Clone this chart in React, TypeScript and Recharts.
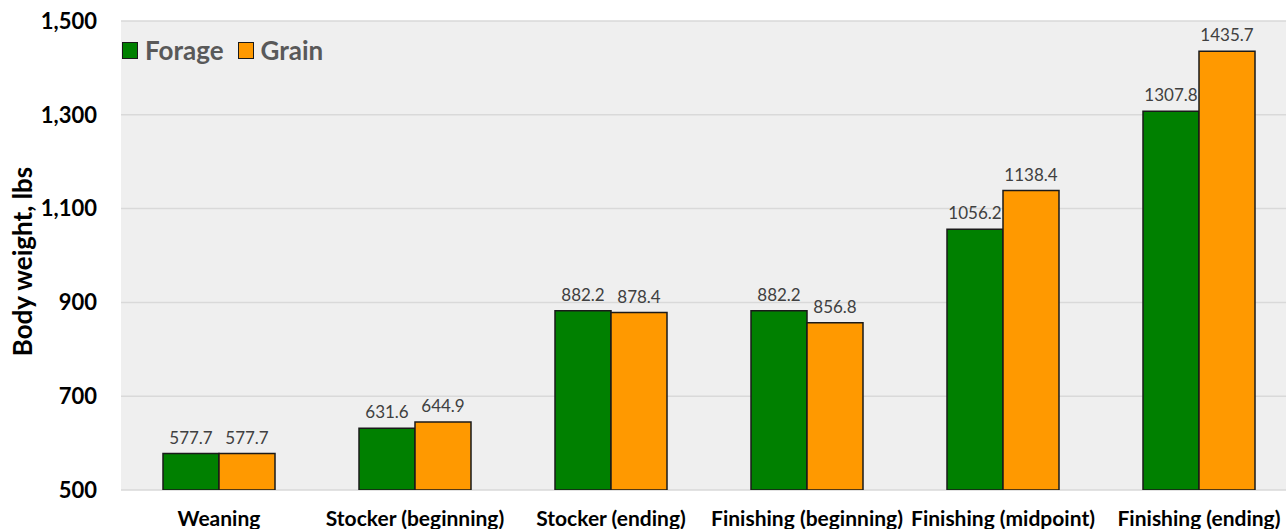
import React from 'react'
import {
  BarChart,
  Bar,
  XAxis,
  YAxis,
  CartesianGrid,
  LabelList,
} from 'recharts'

// ─── Data ───
const STAGES = [
  'Weaning',
  'Stocker (beginning)',
  'Stocker (ending)',
  'Finishing (beginning)',
  'Finishing (midpoint)',
  'Finishing (ending)',
]
const FORAGE = [577.7, 631.6, 882.2, 882.2, 1056.2, 1307.8]
const GRAIN = [577.7, 644.9, 878.4, 856.8, 1138.4, 1435.7]
const Y_TICKS = [500, 700, 900, 1100, 1300, 1500]

const FORAGE_COLOR = '#008000'
const GRAIN_COLOR = '#ff9900'
const FONT = 'Lato, "Open Sans", sans-serif'

const data = STAGES.map((stage, i) => ({
  stage,
  forage: FORAGE[i],
  grain: GRAIN[i],
}))

// legend sits inside the plot, top-left corner
function LegendBox() {
  const items = [
    { name: 'Forage', color: FORAGE_COLOR },
    { name: 'Grain', color: GRAIN_COLOR },
  ]
  return (
    <div
      style={{
        position: 'absolute',
        left: 122,
        top: 36,
        display: 'flex',
        alignItems: 'center',
        fontFamily: FONT,
      }}
    >
      {items.map(it => (
        <div key={it.name} style={{ display: 'flex', alignItems: 'center', marginRight: 14 }}>
          <span
            style={{
              display: 'inline-block',
              width: 14,
              height: 15,
              background: it.color,
              border: '1.5px solid #1a1a1a',
              marginRight: 7,
            }}
          />
          <span style={{ fontSize: 26, fontWeight: 700, color: '#595959', lineHeight: '28px' }}>
            {it.name}
          </span>
        </div>
      ))}
    </div>
  )
}

function YLabel(props: any) {
  const vb = props.viewBox || { x: 0, y: 0, height: 0 }
  const cx = 32
  const cy = vb.y + vb.height / 2 + 6
  return (
    <text
      x={cx}
      y={cy}
      transform={`rotate(-90, ${cx}, ${cy})`}
      textAnchor="middle"
      fontFamily={FONT}
      fontSize={26}
      fontWeight={700}
      fill="#000"
    >
      Body weight, lbs
    </text>
  )
}

export default function App() {
  return (
    <div
      style={{
        position: 'absolute',
        left: 0,
        top: 0,
        width: 1286,
        height: 529,
        overflow: 'hidden',
        background: '#fff',
      }}
    >
      <BarChart
        width={1300}
        height={540}
        data={data}
        margin={{ top: 21, right: 3, bottom: 0, left: 0 }}
        barGap={0}
      >
        <CartesianGrid
          vertical={false}
          stroke="#d9d9d9"
          strokeWidth={1.5}
          fill="#efefef"
          fillOpacity={1}
        />
        <XAxis
          dataKey="stage"
          height={50}
          axisLine={false}
          tickLine={false}
          tickSize={0}
          tickMargin={21}
          interval={0}
          tick={{ fontSize: 21, fontWeight: 700, fill: '#000', fontFamily: FONT }}
        />
        <YAxis
          width={121}
          domain={[500, 1500]}
          ticks={Y_TICKS}
          allowDataOverflow
          axisLine={false}
          tickLine={false}
          tickSize={0}
          tickMargin={24}
          tickFormatter={(v: number) => v.toLocaleString('en-US')}
          tick={{ fontSize: 22, fontWeight: 700, fill: '#000', fontFamily: FONT }}
          label={<YLabel />}
        />
        <Bar
          dataKey="forage"
          name="Forage"
          fill={FORAGE_COLOR}
          stroke="#1a1a1a"
          strokeWidth={1.5}
          barSize={56}
          isAnimationActive={false}
        >
          <LabelList
            dataKey="forage"
            position="top"
            offset={10}
            formatter={(v: any) => Number(v).toFixed(1)}
            style={{ fontSize: 17, fill: '#404040', fontFamily: FONT }}
          />
        </Bar>
        <Bar
          dataKey="grain"
          name="Grain"
          fill={GRAIN_COLOR}
          stroke="#1a1a1a"
          strokeWidth={1.5}
          barSize={56}
          isAnimationActive={false}
        >
          <LabelList
            dataKey="grain"
            position="top"
            offset={10}
            formatter={(v: any) => Number(v).toFixed(1)}
            style={{ fontSize: 17, fill: '#404040', fontFamily: FONT }}
          />
        </Bar>
      </BarChart>
      <LegendBox />
    </div>
  )
}
